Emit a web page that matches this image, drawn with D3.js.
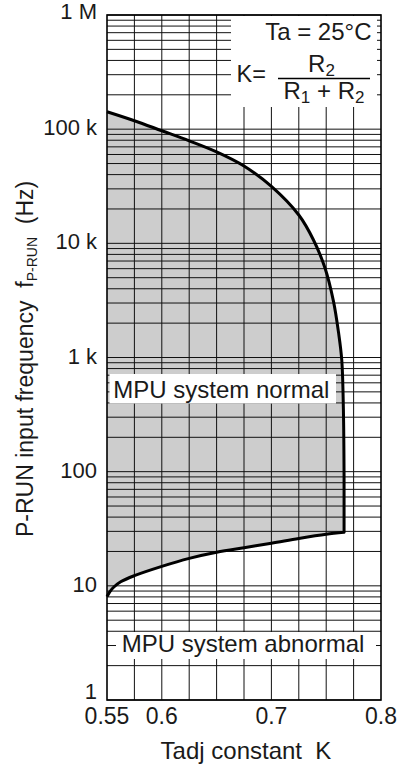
<!DOCTYPE html>
<html><head><meta charset="utf-8">
<script src="https://cdn.jsdelivr.net/npm/d3@7"></script>
<style>
body{margin:0;background:#fff}
text{font-family:"Liberation Sans",Arial,Helvetica,sans-serif;fill:#1a1a1a}
</style></head>
<body><svg id="c" width="398" height="768"></svg>
<script>
// ---- data ----
const upperK = [0.55, 0.575, 0.6, 0.625, 0.65, 0.675, 0.7, 0.725, 0.7384, 0.7489, 0.7566, 0.7612, 0.7642, 0.7657, 0.7663];
const upperF = [142200, 118600, 96900, 79100, 63300, 47600, 31500, 17700, 10700, 6080, 3120, 1670, 951, 347, 91.6];
const cornerK = [0.7663];
const cornerF = [29.4];
const lowerK = [0.55, 0.5525, 0.5563, 0.5625, 0.575, 0.6, 0.625, 0.65, 0.675, 0.7, 0.725, 0.75, 0.7663];
const lowerF = [8.03, 8.87, 9.77, 10.85, 12.27, 14.8, 17.4, 19.7, 21.6, 23.6, 26.0, 28.3, 29.4];
const xTicks = [0.55, 0.6, 0.7, 0.8];
const xTickLabels = ["0.55", "0.6", "0.7", "0.8"];
const xGrid = [0.575, 0.6, 0.625, 0.65, 0.675, 0.7, 0.725, 0.75, 0.775];
const yTicks = [1, 10, 100, 1000, 10000, 100000, 1000000];
const yTickLabels = ["1", "10", "100", "1 k", "10 k", "100 k", "1 M"];

// ---- layout ----
const L = 107, R = 381, T = 15, B = 700;
const svg = d3.select("#c");
const x = d3.scaleLinear().domain([0.55, 0.8]).range([L, R]);
const y = d3.scaleLog().domain([1, 1e6]).range([B, T]);

const upper = upperK.map((k, i) => [k, upperF[i]]);
const lower = lowerK.map((k, i) => [k, lowerF[i]]);
const corner = [cornerK[0], cornerF[0]];
const line = d3.line().x(d => x(d[0])).y(d => y(d[1])).curve(d3.curveCatmullRom.alpha(0.5));
const boundary = line(upper) + "L" + x(corner[0]) + "," + y(corner[1]) +
  line(lower.slice().reverse()).replace(/^M[^C]*/, "");

// fill
svg.append("path").attr("d", boundary + "Z").attr("fill", "#cdcdcd");

// grid
const gy = y.ticks();
svg.append("g").selectAll("line").data(gy).join("line")
  .attr("x1", L).attr("x2", R).attr("y1", d => y(d)).attr("y2", d => y(d))
  .attr("stroke", "#111").attr("stroke-width", 1);
svg.append("g").selectAll("line").data(xGrid).join("line")
  .attr("x1", d => x(d)).attr("x2", d => x(d)).attr("y1", T).attr("y2", B)
  .attr("stroke", "#111").attr("stroke-width", 1);

// white boxes
svg.append("rect").attr("x", 231).attr("y", T + 1).attr("width", 146).attr("height", 91).attr("fill", "#fff");
svg.append("rect").attr("x", 109.5).attr("y", 374).attr("width", 226.5).attr("height", 29.5).attr("fill", "#fff");
svg.append("rect").attr("x", 116).attr("y", 632).attr("width", 260).attr("height", 27).attr("fill", "#fff");

// curve
svg.append("path").attr("d", boundary).attr("fill", "none")
  .attr("stroke", "#000").attr("stroke-width", 3).attr("stroke-linejoin", "miter");

// frame
svg.append("rect").attr("x", L).attr("y", T).attr("width", R - L).attr("height", B - T)
  .attr("fill", "none").attr("stroke", "#000").attr("stroke-width", 1.6);

// y tick labels
svg.append("g").selectAll("text").data(yTicks).join("text")
  .attr("x", 97).attr("text-anchor", "end").attr("font-size", 22)
  .attr("y", (d, i) => y(d) + (i === 0 ? -1 : i === yTicks.length - 1 ? 4 : 6))
  .text((d, i) => yTickLabels[i]);

// x tick labels
svg.append("g").selectAll("text").data(xTicks).join("text")
  .attr("x", d => x(d)).attr("y", 723.5).attr("text-anchor", "middle").attr("font-size", 23)
  .text((d, i) => xTickLabels[i]);

// axis titles
svg.append("text").attr("x", 246).attr("y", 759).attr("text-anchor", "middle")
  .attr("font-size", 24).style("white-space", "pre").text("Tadj constant  K");

const yt = svg.append("text").attr("transform", "translate(33,537) rotate(-90)")
  .attr("font-size", 23).style("white-space", "pre");
yt.append("tspan").text("P-RUN input frequency  f");
yt.append("tspan").attr("font-size", 14).attr("dy", 4).text("P-RUN");
yt.append("tspan").attr("dy", -4).text("  (Hz)");

// legend box text
svg.append("text").attr("x", 371.5).attr("y", 40).attr("text-anchor", "end")
  .attr("font-size", 24).text("Ta = 25°C");
svg.append("text").attr("x", 236.5).attr("y", 81.5).attr("font-size", 23.5).text("K=");
const num = svg.append("text").attr("x", 321.5).attr("y", 71.5).attr("text-anchor", "middle").attr("font-size", 24);
num.append("tspan").text("R");
num.append("tspan").attr("font-size", 17).attr("dy", 4).text("2");
svg.append("line").attr("x1", 278).attr("x2", 370).attr("y1", 78.5).attr("y2", 78.5)
  .attr("stroke", "#000").attr("stroke-width", 1.3);
const den = svg.append("text").attr("x", 324).attr("y", 99).attr("text-anchor", "middle").attr("font-size", 24);
den.append("tspan").text("R");
den.append("tspan").attr("font-size", 17).attr("dy", 4).text("1");
den.append("tspan").attr("dy", -4).style("white-space", "pre").text(" + R");
den.append("tspan").attr("font-size", 17).attr("dy", 4).text("2");

// region labels
svg.append("text").attr("x", 113.3).attr("y", 397.5).attr("font-size", 24).text("MPU system normal");
svg.append("text").attr("x", 121.7).attr("y", 651.5).attr("font-size", 24).text("MPU system abnormal");
</script>
</body></html>
